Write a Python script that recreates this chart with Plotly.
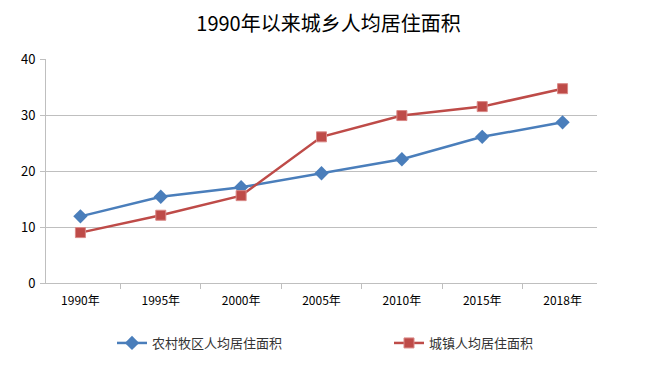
import plotly.graph_objects as go

years = ["1990年", "1995年", "2000年", "2005年", "2010年", "2015年", "2018年"]
rural = [11.9, 15.4, 17.1, 19.6, 22.1, 26.1, 28.7]
urban = [9.0, 12.1, 15.6, 26.1, 29.9, 31.5, 34.7]
rural_name = "农村牧区人均居住面积"
urban_name = "城镇人均居住面积"
title = "1990年以来城乡人均居住面积"

font_family = "Noto Sans CJK SC, sans-serif"
W, H = 641, 363

fig = go.Figure()
fig.add_trace(go.Scatter(
    x=years, y=rural, name=rural_name, mode="lines+markers", legend="legend",
    line=dict(color="#4A7EBB", width=2.5),
    marker=dict(symbol="diamond", size=11, color="#4A7EBB"),
))
fig.add_trace(go.Scatter(
    x=years, y=urban, name=urban_name, mode="lines+markers", legend="legend2",
    line=dict(color="#BE4B48", width=2.5),
    marker=dict(symbol="square", size=10, color="#BE4B48", line=dict(color="#D98886", width=1)),
))

leg_common = dict(orientation="h", xref="container", yref="container", y=1 - 335 / H,
                  yanchor="middle", xanchor="left",
                  font=dict(family=font_family, size=13, color="#333333"))

fig.update_layout(
    width=W, height=H,
    margin=dict(l=38, r=52, t=51, b=88, autoexpand=False),
    paper_bgcolor="white", plot_bgcolor="white",
    font=dict(family=font_family, size=12, color="#000000"),
    title=dict(text=title, x=0.5, xanchor="center", xref="container", yref="container",
               y=1 - 16 / H, yanchor="middle",
               font=dict(family=font_family, size=20, color="#000000")),
    showlegend=True,
    legend=dict(x=104 / W, **leg_common),
    legend2=dict(x=381 / W, **leg_common),
)
fig.update_xaxes(
    type="category", showgrid=False, showline=True, linecolor="#BFBFBF", linewidth=1,
    ticks="outside", tickson="boundaries", ticklen=5, tickcolor="#BFBFBF", automargin=False,
    ticklabelstandoff=7,
    tickfont=dict(family=font_family, size=12, color="#000000"),
)
fig.update_yaxes(
    range=[0, 40], dtick=10, showgrid=True, gridcolor="#BFBFBF", gridwidth=1,
    showline=True, linecolor="#BFBFBF", linewidth=1, automargin=False,
    ticks="outside", ticklen=5, tickcolor="#BFBFBF", zeroline=False,
    ticklabelstandoff=2,
    tickfont=dict(family=font_family, size=13, color="#000000"),
)

fig.write_html("out.html")
